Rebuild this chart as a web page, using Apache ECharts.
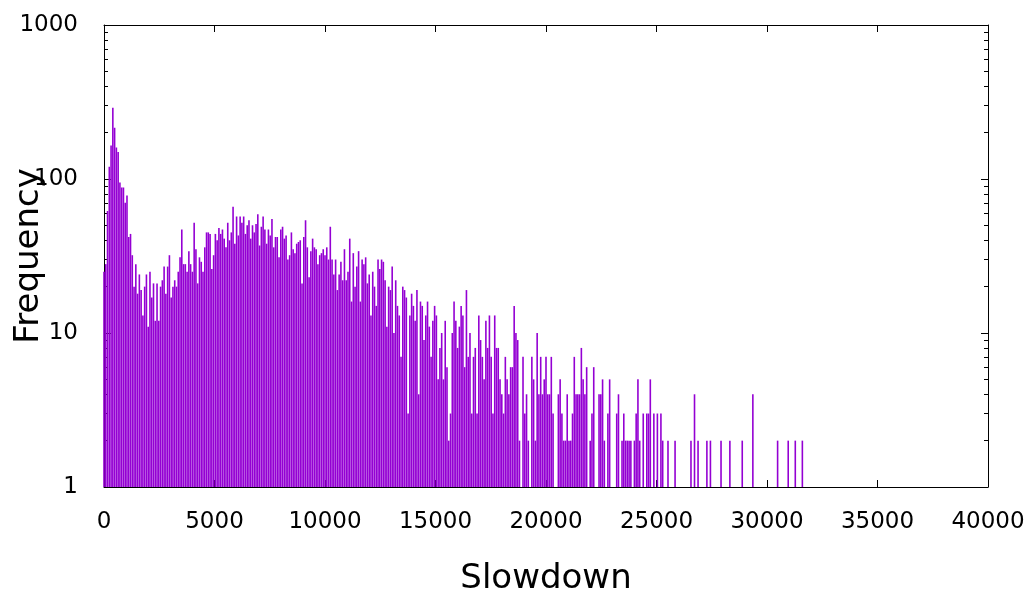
<!DOCTYPE html>
<html>
<head>
<meta charset="utf-8">
<script src="https://cdn.jsdelivr.net/npm/echarts@6/dist/echarts.min.js"></script>
<style>
  html, body { margin: 0; padding: 0; background: #fff; }
  #chart { width: 1032px; height: 591px; }
</style>
</head>
<body>
<div id="chart"></div>
<script>
// histogram of slowdown, bins of 80 units
const BIN_WIDTH = 80;

// consecutive bins starting at 0
const counts = [
    25, 28, 62, 120, 165, 290, 215, 160, 150, 95, 88, 88, 70, 78, 42, 44, 32, 20, 28, 18,
    24, 19, 13, 20, 24, 11, 25, 17, 21, 12, 21, 12, 20, 22, 27, 18, 27, 32, 17, 20,
    22, 20, 25, 31, 47, 28, 28, 25, 34, 28, 25, 52, 35, 21, 31, 29, 25, 36, 45, 45,
    44, 26, 32, 44, 40, 48, 44, 47,
    41, 36, 52, 40, 45, 66, 38, 57, 43, 57, 52, 57, 44, 50, 54, 41, 50, 45, 51, 59,
    37, 49, 57, 47, 38, 47, 43, 55, 36, 42, 42, 31, 47, 49, 41, 43, 30, 32, 45, 35,
    33, 38, 39, 40, 21, 42, 54, 36, 23, 34, 41, 36, 35, 28, 32, 33, 35, 32, 36, 30,
    49, 30, 24, 30, 19, 24,
    29, 22, 35, 22, 25, 41, 16, 33, 20, 27, 34, 16, 30, 28, 31, 21, 24, 13, 25, 20,
    15, 30, 26, 30, 29, 22, 11, 20, 19, 27, 10, 22, 15, 13, 7, 20, 19, 17, 3, 13,
    18, 15, 12, 19, 4, 16, 15, 9, 13, 16, 11, 7, 12, 15, 13, 5, 8, 10, 5, 12,
    6, 2, 3, 10, 16, 12, 8,
    11, 15, 13, 6, 19, 7, 10, 3, 7, 8, 3, 13, 9, 7, 5, 12, 8, 13, 7, 3,
    13, 8, 8, 5, 4, 3, 7, 5, 4, 6, 6, 15, 10, 9, 2, 0, 7, 3, 4, 2,
    0, 7, 5, 2, 10, 4, 7, 4, 5, 7, 4, 4, 7, 3, 0, 0, 4, 5, 3, 2,
    2, 4, 2, 2, 3
];

// sparse tail: bin index and count
const tailBins = [
    266, 267, 268, 269, 270, 271, 272, 273, 275, 276, 277, 280, 281, 282, 283, 285, 286,
    290, 291, 293, 294, 295, 296, 297, 298, 300, 301, 302, 303, 305, 307, 308, 309, 311,
    313, 315, 316, 319, 323, 332, 334, 336, 341, 343, 349, 354, 361, 367, 381, 387, 391, 395
];
const tailCounts = [
    7, 4, 4, 4, 8, 5, 4, 6, 2, 3, 6, 4, 4, 5, 2, 3, 5,
    3, 4, 2, 3, 2, 2, 2, 2, 2, 3, 5, 2, 3, 3, 3, 5, 3,
    3, 3, 2, 2, 2, 2, 4, 2, 2, 2, 2, 2, 2, 4, 2, 2, 2, 2
];

const xTicks = [0, 5000, 10000, 15000, 20000, 25000, 30000, 35000, 40000];
const yMajor = [1, 10, 100, 1000];
const yMinor = [2, 3, 4, 5, 6, 7, 8, 9, 20, 30, 40, 50, 60, 70, 80, 90, 200, 300, 400, 500, 600, 700, 800, 900];

const points = [];
counts.forEach(function (c, i) {
    if (c > 0) points.push([i * BIN_WIDTH, c]);
});
tailBins.forEach(function (b, i) {
    points.push([b * BIN_WIDTH, tailCounts[i]]);
});

const FONT = 'DejaVu Sans';
const lineStyle = { color: '#000', width: 1 };
const plain = function (v) { return String(v); };

function xAx(pos, labels) {
    return {
        type: 'value', position: pos, min: 0, max: 40000, interval: 5000,
        axisLine: { show: true, onZero: false, lineStyle: lineStyle },
        axisTick: { show: true, inside: true, length: 7, lineStyle: lineStyle, customValues: xTicks },
        axisLabel: { show: labels, fontFamily: FONT, fontSize: 23, color: '#000', margin: 24,
                     customValues: xTicks, formatter: plain },
        splitLine: { show: false }
    };
}

function yAx(pos, ticks, len, labels, line) {
    return {
        type: 'log', logBase: 10, position: pos, min: 1, max: 1000,
        axisLine: { show: line, onZero: false, lineStyle: lineStyle },
        axisTick: { show: true, inside: true, length: len, lineStyle: lineStyle, customValues: ticks },
        axisLabel: {
            show: labels, fontFamily: FONT, fontSize: 23, color: '#000', margin: 26,
            padding: [0, 0, 8, 0], customValues: yMajor, formatter: plain
        },
        splitLine: { show: false }
    };
}

const chart = echarts.init(document.getElementById('chart'));

const bottomX = xAx('bottom', true);
bottomX.name = 'Slowdown';
bottomX.nameLocation = 'middle';
bottomX.nameGap = 75;
bottomX.nameMoveOverlap = false;
bottomX.nameTextStyle = { fontFamily: FONT, fontSize: 34, color: '#000' };

const leftY = yAx('left', yMajor, 7, true, true);
leftY.name = 'Frequency';
leftY.nameLocation = 'middle';
leftY.nameGap = 58;
leftY.nameMoveOverlap = false;
leftY.nameTextStyle = { fontFamily: FONT, fontSize: 34, color: '#000' };

chart.setOption({
    animation: false,
    backgroundColor: '#fff',
    grid: { left: 104, right: 44, top: 25, bottom: 104, containLabel: false, outerBoundsMode: 'none' },
    xAxis: [bottomX, xAx('top', false)],
    yAxis: [
        leftY,
        yAx('left', yMinor, 4, false, false),
        yAx('right', yMajor, 7, false, true),
        yAx('right', yMinor, 4, false, false)
    ],
    series: [
        {
            name: 'Frequency',
            type: 'bar',
            xAxisIndex: 0,
            yAxisIndex: 0,
            barWidth: 1.6,
            large: false,
            itemStyle: { color: '#9400D3' },
            data: points
        }
    ]
});
</script>
</body>
</html>
